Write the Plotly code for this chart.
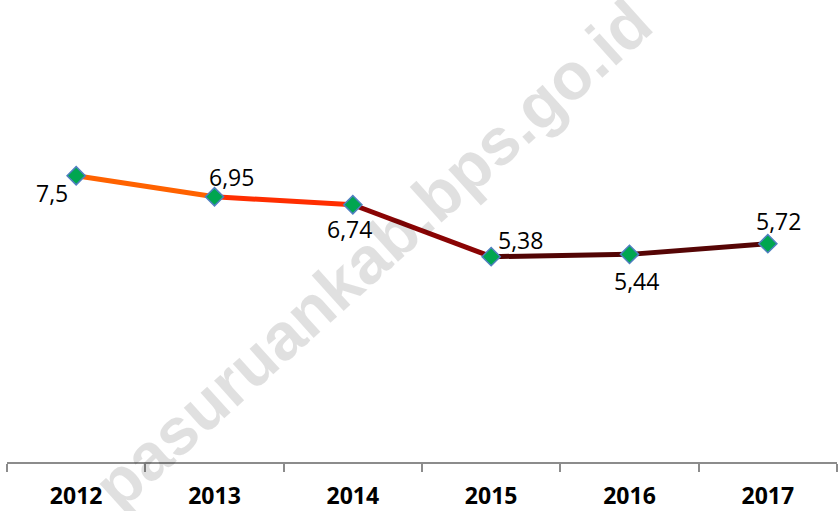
import plotly.graph_objects as go

years = ["2012", "2013", "2014", "2015", "2016", "2017"]
values = [7.5, 6.95, 6.74, 5.38, 5.44, 5.72]
labels = ["7,5", "6,95", "6,74", "5,38", "5,44", "5,72"]
segment_colors = ["#FF6200", "#FF2E00", "#8A0404", "#520404", "#560505"]

# label offsets (pixels) relative to each point
label_shift = [(-24, -17), (17, 20), (-3, -24), (29, 17), (7, -27), (11, 23)]

fig = go.Figure()

for i in range(len(years) - 1):
    fig.add_trace(go.Scatter(
        x=[years[i], years[i + 1]], y=[values[i], values[i + 1]],
        mode="lines", line=dict(color=segment_colors[i], width=5),
        hoverinfo="skip", showlegend=False,
    ))

fig.add_trace(go.Scatter(
    x=years, y=values, mode="markers",
    marker=dict(symbol="diamond", size=14, color="#00A650",
                line=dict(color="#4F7FC0", width=1.5)),
    showlegend=False,
))

for i, (v, lab, (dx, dy)) in enumerate(zip(values, labels, label_shift)):
    fig.add_annotation(x=i, y=v, text=lab, showarrow=False,
                       xshift=dx, yshift=dy,
                       font=dict(family="Open Sans", size=23, color="black"))

fig.add_annotation(
    xref="paper", yref="paper", x=0.44, y=0.455,
    text="pasuruankab.bps.go.id", showarrow=False, textangle=-42,
    font=dict(family="Liberation Sans", size=66, color="rgba(0,0,0,0.12)",
              weight="bold"),
)

fig.update_layout(
    width=840, height=511,
    margin=dict(l=7, r=3, t=4, b=49, autoexpand=False),
    paper_bgcolor="white", plot_bgcolor="white",
    xaxis=dict(
        type="category", range=[-0.5, 5.5], automargin=False,
        showline=True, linecolor="#8C8C8C", linewidth=1.5,
        ticks="outside", tickson="boundaries", ticklen=8,
        tickcolor="#8C8C8C", tickwidth=1.5,
        showgrid=False, zeroline=False,
        tickfont=dict(family="Open Sans", size=23, color="black", weight="bold"),
        ticklabelstandoff=13,
    ),
    yaxis=dict(range=[0, 12], visible=False, showgrid=False, zeroline=False),
)

fig.write_html("out.html", config={"displayModeBar": False},
               post_script="document.body.style.margin='0';document.body.style.overflow='hidden';")
